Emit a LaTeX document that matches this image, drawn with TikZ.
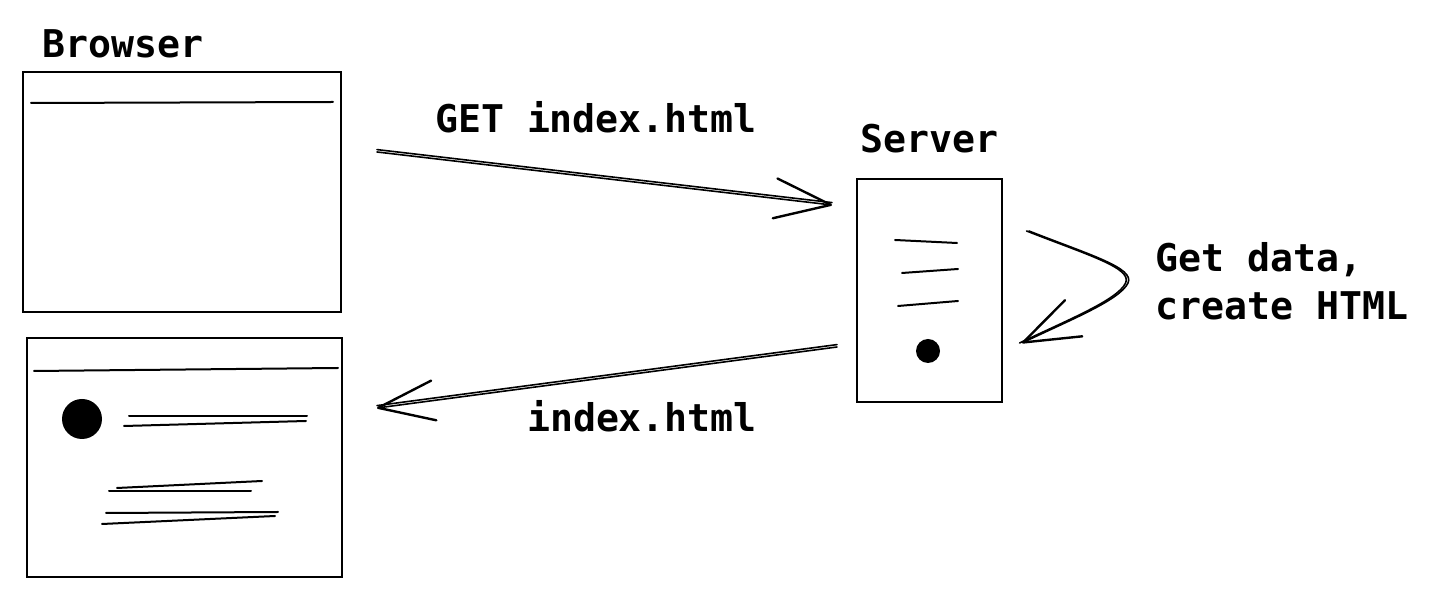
\documentclass[tikz,border=0pt]{standalone}
\usepackage{fontspec}
\setmonofont{DejaVu Sans Mono}
\usetikzlibrary{arrows.meta, positioning}

\begin{document}
\begin{tikzpicture}[
    x=0.5pt, y=-0.5pt,
    tag/.style={font=\ttfamily\bfseries\fontsize{19.1}{24}\selectfont, inner sep=0pt},
    window/.style={draw, line width=1.3pt, inner sep=0pt, outer sep=0pt},
    stroke/.style={line width=1pt, line cap=round},
    wire/.style={line width=0.8pt, line cap=round},
    head/.style={-{Straight Barb[length=28pt, width=20pt, line width=1.2pt, round]}},
]
\useasboundingbox (0,0) rectangle (1436,608);

% Browser (before and after)
\node[tag, anchor=base west] (browser-lbl) at (42,58) {Browser};
\node[window, minimum width=159pt, minimum height=120pt] (win1) at (182,192) {};
\node[window, minimum width=157.5pt, minimum height=119.5pt] (win2) at (184.5,457.5) {};

% title bars
\draw[stroke] (31,103) -- (333,102);
\draw[stroke] (34,371) -- (338,368);

% page content
\fill (82,419) circle (10pt);
\draw[stroke] (129,416) -- (307,416);
\draw[stroke] (124,426) -- (306,421);
\draw[stroke] (117,488) -- (262,481);
\draw[stroke] (109,491) -- (251,491);
\draw[stroke] (106,513) -- (278,512);
\draw[stroke] (102,524) -- (275,516);

% Server
\node[window, minimum width=72.5pt, minimum height=111.5pt] (srv) at (929.5,290.5) {};
\node[tag, above=13pt of srv] (server-lbl) {Server};
\draw[stroke] (895,240) -- (957,243);
\draw[stroke] (902,273) -- (958,269);
\draw[stroke] (898,306) -- (958,301);
\fill (928,351) circle (6pt);

% Request
\coordinate (req-from) at (377,152);
\coordinate (req-to) at (832,205);
\draw[wire, head] (req-from) -- (req-to);
\draw[wire, transform canvas={yshift=1.2pt}] (req-from) -- (req-to);
\node[tag, anchor=base] (req-lbl) at (596,133) {GET index.html};

% Response
\coordinate (resp-from) at (837,347);
\coordinate (resp-to) at (377,408);
\draw[wire, head] (resp-from) -- (resp-to);
\draw[wire, transform canvas={yshift=1.2pt}] (resp-from) -- (resp-to);
\node[tag, anchor=base] (resp-lbl) at (642,432) {index.html};

% Server side work
\coordinate (work-from) at (1029,231);
\coordinate (work-apex) at (1128,283);
\coordinate (work-to) at (1022,343);
\draw[wire, head] (work-from) .. controls (1090,255) and (1135,268) .. (work-apex)
    .. controls (1120,300) and (1070,320) .. (work-to);
\draw[wire, transform canvas={xshift=-1.2pt}] (work-from) .. controls (1090,255) and (1135,268) .. (work-apex)
    .. controls (1120,300) and (1070,320) .. (work-to);
\node[tag, anchor=base west, align=left] (work-lbl) at (1155,320) {Get data,\\create HTML};

\end{tikzpicture}
\end{document}
